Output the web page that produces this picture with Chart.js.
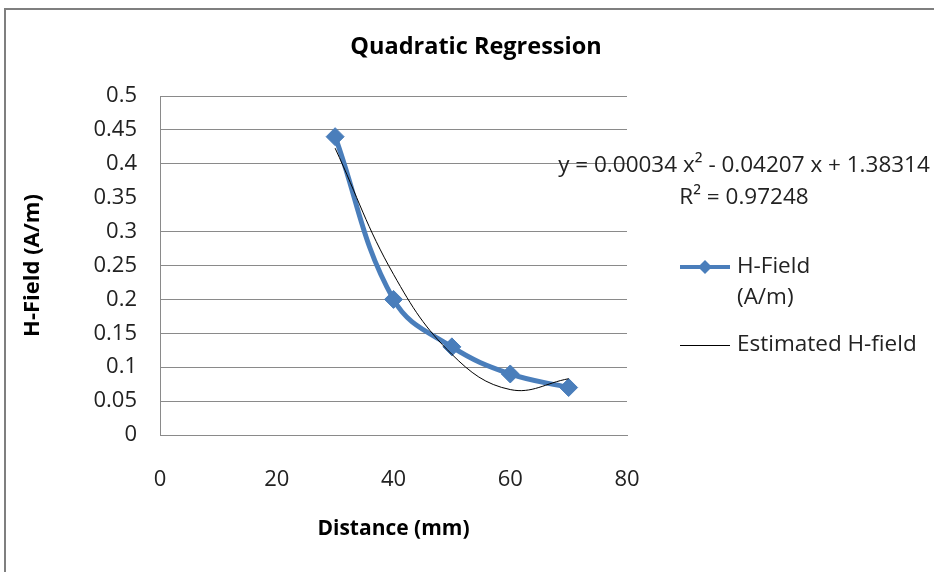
<!DOCTYPE html>
<html>
<head>
<meta charset="utf-8">
<script src="https://cdn.jsdelivr.net/npm/chart.js@4.4.1/dist/chart.umd.min.js"></script>
<style>
  html, body { margin: 0; padding: 0; background: #fff; }
  #wrap { width: 934px; height: 572px; }
</style>
</head>
<body>
<div id="wrap"><canvas id="quadChart" width="934" height="572"></canvas></div>
<script>
// valores
const distance = [30, 40, 50, 60, 70]
const hField = [0.44, 0.2, 0.13, 0.09, 0.07]
const estimated = [0.423, 0.237, 0.119, 0.067, 0.083]
const xTicks = [0, 20, 40, 60, 80]
const yTicks = [0, 0.05, 0.1, 0.15, 0.2, 0.25, 0.3, 0.35, 0.4, 0.45, 0.5]
const yTickLabels = ['0', '0.05', '0.1', '0.15', '0.2', '0.25', '0.3', '0.35', '0.4', '0.45', '0.5']
const seriesNames = ['H-Field (A/m)', 'Estimated H-field']
const chartTitle = 'Quadratic Regression'
const equation = 'y = 0.00034 x\u00B2 - 0.04207 x + 1.38314'
const rSquared = 'R\u00B2 = 0.97248'

const blue = '#4a7ebb'
const gray = '#8a8a8a'
const font = 'Open Sans'

// marco, titulo, ecuacion y leyenda
const extras = {
  id: 'extras',
  beforeDraw(chart) {
    const ctx = chart.ctx
    ctx.save()
    ctx.fillStyle = '#fff'
    ctx.fillRect(0, 0, chart.width, chart.height)
    ctx.strokeStyle = '#7f7f7f'
    ctx.lineWidth = 2
    ctx.beginPath()
    ctx.moveTo(chart.width, 9)
    ctx.lineTo(5, 9)
    ctx.lineTo(5, chart.height)
    ctx.stroke()
    ctx.restore()
  },
  afterDraw(chart) {
    const ctx = chart.ctx
    const area = chart.chartArea
    ctx.save()
    ctx.textBaseline = 'middle'
    ctx.textAlign = 'center'
    ctx.fillStyle = '#000'
    ctx.font = 'bold 23.5px "' + font + '"'
    ctx.fillText(chartTitle, 476, 47)

    ctx.fillStyle = '#222'
    ctx.font = '22.5px "' + font + '"'
    ctx.fillText(equation, area.right + 117, 166)
    ctx.fillText(rSquared, area.right + 117, 198)

    // leyenda
    const lx = area.right + 53
    ctx.textAlign = 'left'
    ctx.strokeStyle = blue
    ctx.lineWidth = 4
    ctx.beginPath()
    ctx.moveTo(lx, 267)
    ctx.lineTo(lx + 50, 267)
    ctx.stroke()
    ctx.fillStyle = blue
    ctx.beginPath()
    ctx.moveTo(lx + 25 - 7, 267)
    ctx.lineTo(lx + 25, 260)
    ctx.lineTo(lx + 25 + 7, 267)
    ctx.lineTo(lx + 25, 274)
    ctx.closePath()
    ctx.fill()
    ctx.fillStyle = '#222'
    const parts = seriesNames[0].split(' ')
    ctx.fillText(parts[0], lx + 57, 267)
    ctx.fillText(parts[1], lx + 57, 298)

    ctx.strokeStyle = '#000'
    ctx.lineWidth = 1
    ctx.beginPath()
    ctx.moveTo(lx, 345.5)
    ctx.lineTo(lx + 50, 345.5)
    ctx.stroke()
    ctx.fillText(seriesNames[1], lx + 57, 345)
    ctx.restore()
  }
}

const ctx = document.getElementById('quadChart')

new Chart(ctx, {
  type: 'line',
  data: {
    datasets: [{
      label: seriesNames[1],
      data: distance.map((d, i) => ({ x: d, y: estimated[i] })),
      borderColor: '#000',
      borderWidth: 1,
      pointRadius: 0,
      tension: 0.4,
      fill: false
    }, {
      label: seriesNames[0],
      data: distance.map((d, i) => ({ x: d, y: hField[i] })),
      borderColor: blue,
      backgroundColor: blue,
      borderWidth: 5,
      pointStyle: 'rectRot',
      pointRadius: 9,
      pointBorderWidth: 1,
      tension: 0.4,
      fill: false
    }]
  },
  options: {
    responsive: false,
    animation: false,
    layout: {
      padding: { left: 0, right: 307, bottom: 0, top: 96 }
    },
    plugins: {
      legend: { display: false },
      tooltip: { enabled: false },
      title: { display: false }
    },
    scales: {
      x: {
        type: 'linear',
        min: 0,
        max: 80,
        afterFit: s => { s.height = 137 },
        afterBuildTicks: s => { s.ticks = xTicks.map(v => ({ value: v })) },
        grid: { display: false, drawTicks: false },
        border: { color: gray, width: 1 },
        ticks: {
          color: '#222',
          padding: 32,
          font: { family: font, size: 22 },
          callback: v => String(v)
        },
        title: {
          display: true,
          text: 'Distance (mm)',
          color: '#000',
          font: { family: font, size: 21, weight: 'bold' },
          padding: { bottom: 30 }
        }
      },
      y: {
        min: 0,
        max: 0.5,
        afterFit: s => { s.width = 160 },
        afterBuildTicks: s => { s.ticks = yTicks.map(v => ({ value: v })) },
        grid: {
          drawTicks: false,
          color: c => (c.tick && Math.abs(c.tick.value - 0.35) < 1e-9) ? 'rgba(0,0,0,0)' : gray
        },
        border: { color: gray, width: 1 },
        ticks: {
          color: '#222',
          padding: 23,
          font: { family: font, size: 22 },
          callback: (v, i) => yTickLabels[i]
        },
        title: {
          display: true,
          text: 'H-Field (A/m)',
          color: '#000',
          font: { family: font, size: 22, weight: 'bold' },
          padding: { top: 20 }
        }
      }
    }
  },
  plugins: [extras]
})
</script>
</body>
</html>
